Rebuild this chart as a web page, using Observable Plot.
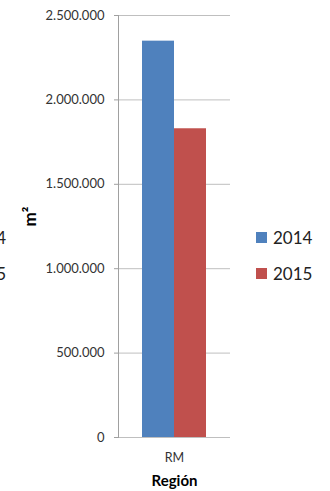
<!DOCTYPE html>
<html>
<head>
<meta charset="utf-8">
<script src="https://cdn.jsdelivr.net/npm/d3@7"></script>
<script src="https://cdn.jsdelivr.net/npm/@observablehq/plot@0.6"></script>
<style>
  body { margin: 0; background: #fff; }
  #wrap { position: relative; width: 330px; height: 491px; overflow: hidden; font-family: Lato, "Open Sans", sans-serif; }
  #legend { position: absolute; left: 256px; top: 228px; }
  .row { display: flex; align-items: center; height: 19px; margin-bottom: 16.5px; font-size: 17px; color: #222; }
  .sw { width: 11px; height: 11px; margin-right: 6px; }
  #cut { position: absolute; right: 324px; top: 228px; text-align: right; }
</style>
</head>
<body>
<div id="wrap"></div>
<script>
const regions = ["RM"];
const years = ["2014", "2015"];
const values2014 = [2348000];
const values2015 = [1829000];
const colors = ["#4f81bd", "#c0504d"];
const yTicks = [0, 500000, 1000000, 1500000, 2000000, 2500000];
const xTitle = "Región";
const yTitle = "m²";

const series = [values2014, values2015];
const data = [];
regions.forEach((r, i) => years.forEach((y, j) => data.push({region: r, year: y, value: series[j][i]})));

const fmt = d3.formatLocale({decimal: ",", thousands: ".", grouping: [3], currency: ["", ""]}).format(",d");

const chart = Plot.plot({
  width: 330,
  height: 491,
  marginTop: 15,
  marginBottom: 54,
  marginLeft: 118,
  marginRight: 100,
  style: {fontFamily: "Lato, 'Open Sans', sans-serif", fontSize: "13px", color: "#333", background: "#fff"},
  x: {axis: null, domain: years, paddingInner: 0, paddingOuter: 0.75},
  fx: {padding: 0, label: null, domain: regions},
  y: {domain: [0, 2500000]},
  color: {domain: years, range: colors},
  marks: [
    Plot.gridY(yTicks, {stroke: "#bfbfbf", strokeOpacity: 1}),
    Plot.barY(data, {fx: "region", x: "year", y: "value", fill: "year"}),
    Plot.frame({anchor: "left", stroke: "#a0a0a0"}),
    Plot.axisY(yTicks, {tickFormat: fmt, tickSize: 4, tickPadding: 10, label: null, stroke: "#a0a0a0"}),
    Plot.axisFx({anchor: "bottom", tickSize: 0, tickPadding: 16, label: null, fontSize: 12.5}),
    Plot.text([xTitle], {frameAnchor: "bottom", dy: 48, fontWeight: "bold", fontSize: 15, fill: "#000"}),
    Plot.text([yTitle], {frameAnchor: "left", dx: -88, rotate: -90, fontWeight: "bold", fontSize: 17, fill: "#000"})
  ]
});
const wrap = document.getElementById("wrap");
wrap.appendChild(chart);

function makeLegend(id) {
  const div = document.createElement("div");
  div.id = id;
  years.forEach((y, j) => {
    const row = document.createElement("div");
    row.className = "row";
    if (id === "legend") {
      const sw = document.createElement("span");
      sw.className = "sw";
      sw.style.background = colors[j];
      row.appendChild(sw);
    }
    const t = document.createElement("span");
    t.textContent = y;
    row.appendChild(t);
    div.appendChild(row);
  });
  wrap.appendChild(div);
}
makeLegend("legend");
makeLegend("cut");
</script>
</body>
</html>
